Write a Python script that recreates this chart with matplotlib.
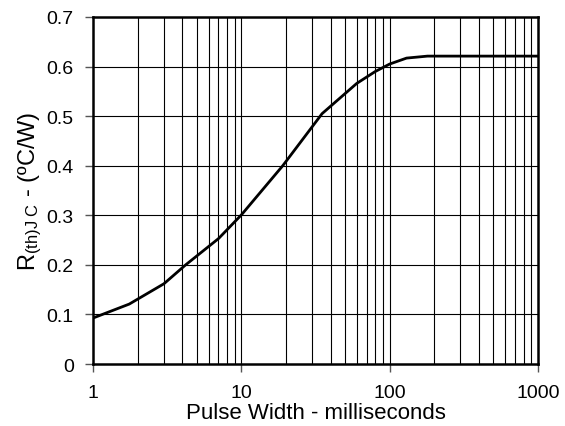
import numpy as np
import matplotlib
matplotlib.use('Agg')
import matplotlib.pyplot as plt

plt.rcParams['font.family'] = ['Liberation Sans', 'DejaVu Sans']
plt.rcParams['mathtext.fontset'] = 'custom'
plt.rcParams['mathtext.rm'] = 'Liberation Sans'
plt.rcParams['mathtext.it'] = 'Liberation Sans'

# curve
pulse_ms = [1, 1.75, 3, 4.2, 7, 10, 19, 35, 60, 80, 100, 130, 180, 1000]
r_thjc = [0.093, 0.121, 0.162, 0.2, 0.253, 0.301, 0.4, 0.505, 0.566, 0.59, 0.605, 0.617, 0.621, 0.621]

x_ticks = [1, 10, 100, 1000]
x_ticklabels = ['1', '10', '100', '1000']
y_ticks = [0, 0.1, 0.2, 0.3, 0.4, 0.5, 0.6, 0.7]
y_ticklabels = ['0', '0.1', '0.2', '0.3', '0.4', '0.5', '0.6', '0.7']

fig = plt.figure(figsize=(5.65, 4.27), dpi=100)
ax = fig.add_axes([0.165, 0.145, 0.787, 0.813])

ax.plot(pulse_ms, r_thjc, color='black', lw=2, zorder=3)

ax.set_xscale('log')
ax.set_xlim(1, 1000)
ax.set_ylim(0, 0.7)

# vertical grid at every 1..9 x decade, horizontal at every 0.1
for dec in [1, 10, 100]:
    for m in range(2, 10):
        ax.axvline(dec * m, color='black', lw=0.8, zorder=1)
for d in [10, 100]:
    ax.axvline(d, color='black', lw=0.8, zorder=1)
for yv in y_ticks[1:-1]:
    ax.axhline(yv, color='black', lw=0.8, zorder=1)

ax.set_xticks(x_ticks)
ax.set_xticklabels(x_ticklabels)
ax.xaxis.set_minor_locator(matplotlib.ticker.NullLocator())
ax.set_yticks(y_ticks)
ax.set_yticklabels(y_ticklabels)
ax.tick_params(axis='both', labelsize=14, length=6, width=1, color='#555555')
ax.tick_params(axis='x', pad=8)
ax.tick_params(axis='y', pad=8)

for s in ax.spines.values():
    s.set_linewidth(1.8)

ax.set_xlabel('Pulse Width - milliseconds', fontsize=16, labelpad=1)
ax.set_ylabel(r'R$_{\mathregular{(th)J\ C}}$ - (ºC/W)', fontsize=17, labelpad=2)

fig.savefig('out.png', dpi=100)
